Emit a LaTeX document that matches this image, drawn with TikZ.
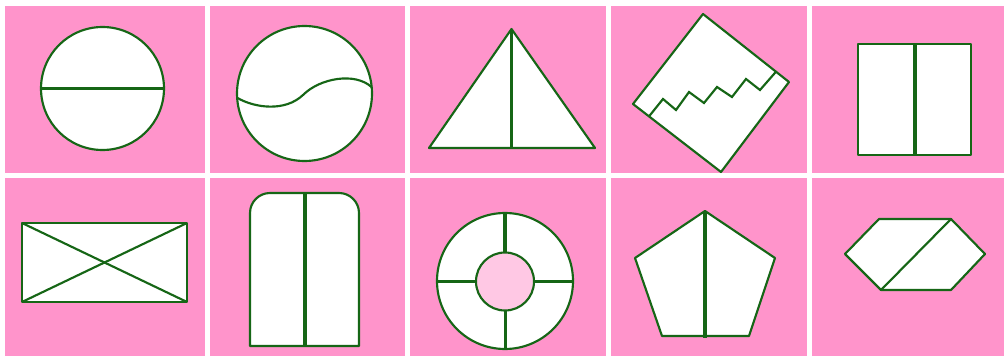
\documentclass[tikz,border=0pt]{standalone}
\definecolor{cellpink}{RGB}{255,148,203}
\definecolor{shapegreen}{RGB}{22,102,22}
\definecolor{holepink}{RGB}{255,200,228}
\tikzset{
  cell/.style={fill=cellpink, draw=none},
  shapeout/.style={draw=shapegreen, fill=white, line width=1.6pt, line join=round},
  cutthick/.style={draw=shapegreen, line width=2.4pt},
  cutthin/.style={draw=shapegreen, line width=1.6pt, line join=miter},
}
\begin{document}
\begin{tikzpicture}[x=0.75pt,y=-0.75pt]
\useasboundingbox[fill=white] (0,0) rectangle (1004,356);
% cells
\fill[cell] (5,6) rectangle (205,173);
\fill[cell] (210,6) rectangle (405,173);
\fill[cell] (410,6) rectangle (606,173);
\fill[cell] (611,6) rectangle (807,173);
\fill[cell] (812,6) rectangle (1004,173);
\fill[cell] (5,178) rectangle (205,356);
\fill[cell] (210,178) rectangle (405,356);
\fill[cell] (410,178) rectangle (606,356);
\fill[cell] (611,178) rectangle (807,356);
\fill[cell] (812,178) rectangle (1004,356);
% 1 circle with diameter
\draw[shapeout] (102.5,88.5) circle[radius=61.5];
\draw[cutthick] (41,88.5) -- (164,88.5);
% 2 circle with wave
\draw[shapeout] (304.5,93.5) circle[radius=67.5];
\draw[cutthin] (237.5,98) .. controls (255,108) and (285,112) .. (303,95)
  .. controls (320,78) and (355,72) .. (371.5,87);
% 3 triangle
\draw[shapeout] (511.5,29) -- (595,148) -- (429,148) -- cycle;
\draw[cutthick] (511.5,29) -- (511.5,148);
% 4 tilted square with zigzag
\draw[shapeout] (703,14) -- (789,82) -- (721,172) -- (633,104) -- cycle;
\draw[cutthin] (649,116.4) -- (663,99) -- (676,110) -- (689,92) -- (704,103)
  -- (717,87) -- (732,97) -- (746,79) -- (760,90) -- (776,71.7);
% 5 rectangle split vertically
\draw[shapeout] (858,44) rectangle (971,155);
\draw[cutthick] (915,44) -- (915,155);
% 6 rectangle with diagonals
\draw[shapeout] (22,223) rectangle (187,302);
\draw[cutthin] (22,223) -- (187,302);
\draw[cutthin] (187,223) -- (22,302);
% 7 rounded-top rectangle
\draw[shapeout] (250,346) -- (250,213) arc[start angle=180, end angle=270, radius=20]
  -- (339,193) arc[start angle=270, end angle=360, radius=20] -- (359,346) -- cycle;
\draw[cutthick] (305,193) -- (305,346);
% 8 ring
\draw[shapeout] (505,281) circle[radius=68];
\draw[draw=shapegreen, fill=holepink, line width=1.6pt] (505,281.5) circle[radius=29];
\draw[cutthick] (505,213) -- (505,252.5);
\draw[cutthick] (437,281.5) -- (476,281.5);
\draw[cutthick] (534,281.5) -- (573,281.5);
\draw[cutthin] (505.5,310.5) -- (505.5,349);
% 9 pentagon
\draw[shapeout] (705,211) -- (775,258) -- (749,336) -- (662,336) -- (635,258) -- cycle;
\draw[cutthick] (705,211) -- (705,337.5);
% 10 hexagon
\draw[shapeout] (845,254) -- (879,219) -- (951,219) -- (985,254) -- (951,290) -- (881,290) -- cycle;
\draw[cutthin] (951,219) -- (881,290);
\end{tikzpicture}
\end{document}
